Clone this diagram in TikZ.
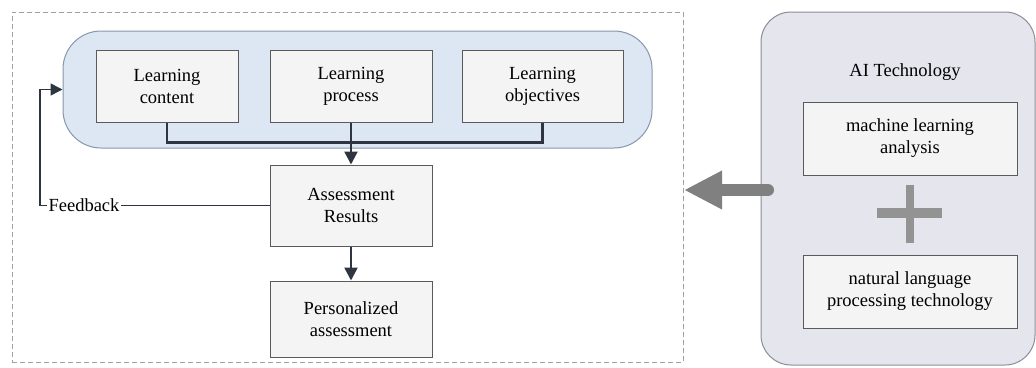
\documentclass[tikz,border=0pt]{standalone}
\usepackage{fontspec}
\setmainfont{Liberation Serif}
\usetikzlibrary{arrows.meta}
\definecolor{boxfill}{HTML}{F4F4F4}
\definecolor{boxline}{HTML}{5A5A5A}
\definecolor{bluefill}{HTML}{DCE7F3}
\definecolor{blueline}{HTML}{8797AC}
\definecolor{panelfill}{HTML}{E5E5EE}
\definecolor{panelline}{HTML}{8C8C96}
\definecolor{connc}{HTML}{2E3540}
\definecolor{arrowgray}{HTML}{808080}
\definecolor{dashgray}{HTML}{A0A0A0}
\tikzset{
  txt/.style={font=\fontsize{18.5}{22}\selectfont, align=center},
  stepbox/.style={txt, draw=boxline, fill=boxfill, line width=1pt, inner sep=0pt},
  conn/.style={draw=connc, line width=2.3pt},
  connarrow/.style={conn, -{Triangle[length=13pt,width=13pt]}},
  bigarrow/.style={draw=arrowgray, line width=12pt, line cap=round, -{Triangle[length=38pt,width=36pt]}},
}
\begin{document}
\begin{tikzpicture}[x=1pt,y=-1pt]
\useasboundingbox (0,0) rectangle (1036,367);
% outer dashed frame
\node[draw=dashgray, dashed, dash pattern=on 5pt off 3pt, line width=0.8pt, minimum width=671pt, minimum height=350pt, inner sep=0pt] (outer) at (347.5,187) {};
% blue container
\node[draw=blueline, fill=bluefill, line width=1pt, rounded corners=38pt, minimum width=589pt, minimum height=117pt, inner sep=0pt] (blue) at (357.5,89.5) {};
% right panel
\node[draw=panelline, fill=panelfill, line width=1pt, rounded corners=30pt, minimum width=274pt, minimum height=353pt, inner sep=0pt] (panel) at (898,188.5) {};
% learning boxes
\node[stepbox, minimum width=142pt, minimum height=72pt] (content) at (167,86) {Learning\\content};
\node[stepbox, minimum width=162pt, minimum height=72pt] (process) at (351,86) {Learning\\process};
\node[stepbox, minimum width=161pt, minimum height=72pt] (objectives) at (542.5,86) {Learning\\objectives};
\node[stepbox, minimum width=162pt, minimum height=81pt] (results) at (351,205.5) {Assessment\\Results};
\node[stepbox, minimum width=162pt, minimum height=76pt] (personal) at (351,319) {Personalized\\assessment};
% AI panel contents
\node[txt] (aititle) at (905,72) {AI Technology};
\node[stepbox, minimum width=214pt, minimum height=73pt] (ml) at (910,138.5) {machine learning\\analysis};
\node[stepbox, minimum width=214pt, minimum height=73pt] (nlp) at (910,291.5) {natural language\\processing technology};
\fill[arrowgray!85] (906,185) rectangle (914,243);
\fill[arrowgray!85] (877,208) rectangle (942,218);
% connectors
\draw[conn] (content.south) -- ++(0,20) -| (objectives.south);
\draw[connarrow] (process.south) -- (results.north);
\draw[connarrow] (results.south) -- (personal.north);
\node[txt, inner sep=1pt] (fb) at (84,205.5) {Feedback};
\coordinate (fbcorner) at (40,205.5);
\draw[draw=connc, line width=1.6pt] (results.west) -- (fb.east);
\draw[draw=connc, line width=1.6pt, -{Triangle[length=12pt,width=12pt]}] (fb.west) -- (fbcorner) |- (blue.west);
% big arrow
\coordinate (bigstart) at (768,190);
\coordinate (bigend) at (684,190);
\draw[bigarrow] (bigstart) -- (bigend);
\end{tikzpicture}
\end{document}
